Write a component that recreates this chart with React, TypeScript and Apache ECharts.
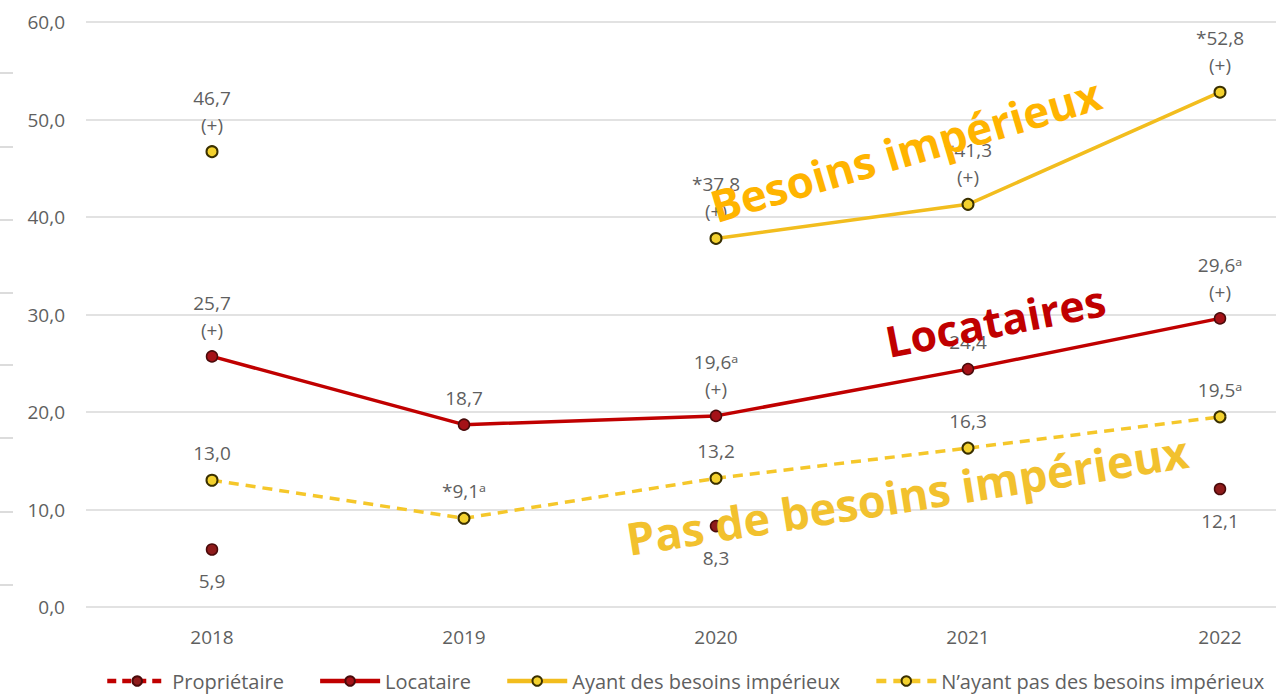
import React, { useEffect, useRef } from "react";
import * as echarts from "echarts";

const years = ["2018", "2019", "2020", "2021", "2022"];
const proprietaire = [5.9, null, 8.3, null, 12.1];
const locataire = [25.7, 18.7, 19.6, 24.4, 29.6];
const ayant = [46.7, null, 37.8, 41.3, 52.8];
const nAyant = [13.0, 9.1, 13.2, 16.3, 19.5];

const proprietaireLabels = ["5,9", "", "8,3", "", "12,1"];
const locataireLabels = ["25,7\n(+)", "18,7", "19,6ᵃ\n(+)", "24,4", "29,6ᵃ\n(+)"];
const ayantLabels = ["46,7\n(+)", "", "*37,8\n(+)", "*41,3\n(+)", "*52,8\n(+)"];
const nAyantLabels = ["13,0", "*9,1ᵃ", "13,2", "16,3", "19,5ᵃ"];

const seriesNames = [
  "Propriétaire",
  "Locataire",
  "Ayant des besoins impérieux",
  "N’ayant pas des besoins impérieux",
];

const FONT = "'Open Sans', 'Noto Sans', sans-serif";
const GREY = "#5f5f5f";

export default function App() {
  const ref = useRef<HTMLDivElement>(null);
  useEffect(() => {
    if (!ref.current) return;
    const chart = echarts.init(ref.current, null, { renderer: "svg" });
    const labelBase = {
      show: true,
      color: GREY,
      fontFamily: FONT,
      fontSize: 19,
      lineHeight: 27,
      distance: 7,
    };
    const markTicks = [73, 147, 220, 293, 365, 438, 512, 585];
    chart.setOption({
      animation: false,
      backgroundColor: "#ffffff",
      textStyle: { fontFamily: FONT },
      grid: { left: 86, right: 0, top: 22, height: 585 },
      xAxis: {
        type: "category",
        data: years,
        boundaryGap: true,
        axisLine: { show: false },
        axisTick: { show: false },
        axisLabel: { color: GREY, fontSize: 19, margin: 20, fontFamily: FONT },
      },
      yAxis: {
        type: "value",
        min: 0,
        max: 60,
        interval: 10,
        axisLine: { show: false },
        axisTick: { show: false },
        splitLine: { lineStyle: { color: "#d9d9d9", width: 1.5 } },
        axisLabel: {
          color: GREY,
          fontSize: 19,
          margin: 21,
          fontFamily: FONT,
          formatter: (v: number) => v.toFixed(1).replace(".", ","),
        },
      },
      legend: {
        bottom: 1,
        left: 100,
        itemWidth: 60,
        itemHeight: 12,
        itemGap: 34,
        lineStyle: { width: 4.5 },
        textStyle: { color: GREY, fontSize: 20, fontFamily: FONT },
        data: seriesNames,
      },
      series: [
        {
          name: seriesNames[0],
          type: "line",
          data: proprietaire,
          symbol: "circle",
          symbolSize: 11,
          itemStyle: { color: "#8e1b1b", borderColor: "#4a0a0a", borderWidth: 1.5 },
          lineStyle: { color: "#c00000", width: 3.5, type: [9, 6] },
          label: {
            ...labelBase,
            position: "bottom",
            distance: 12,
            formatter: (p: any) => proprietaireLabels[p.dataIndex],
          },
          z: 3,
        },
        {
          name: seriesNames[1],
          type: "line",
          data: locataire,
          symbol: "circle",
          symbolSize: 11,
          itemStyle: { color: "#a51218", borderColor: "#4a0a0a", borderWidth: 1.5 },
          lineStyle: { color: "#c00000", width: 3.5 },
          label: {
            ...labelBase,
            position: "top",
            formatter: (p: any) => locataireLabels[p.dataIndex],
          },
          z: 4,
        },
        {
          name: seriesNames[2],
          type: "line",
          data: ayant,
          symbol: "circle",
          symbolSize: 11,
          itemStyle: { color: "#f3d12e", borderColor: "#3a3000", borderWidth: 2 },
          lineStyle: { color: "#f2bd1e", width: 3.5 },
          label: {
            ...labelBase,
            position: "top",
            formatter: (p: any) => ayantLabels[p.dataIndex],
          },
          z: 4,
        },
        {
          name: seriesNames[3],
          type: "line",
          data: nAyant,
          symbol: "circle",
          symbolSize: 11,
          itemStyle: { color: "#f3d12e", borderColor: "#3a3000", borderWidth: 2 },
          lineStyle: { color: "#f5c72a", width: 3.5, type: [10, 7] },
          label: {
            ...labelBase,
            position: "top",
            formatter: (p: any) => nAyantLabels[p.dataIndex],
          },
          z: 4,
        },
      ],
      graphic: [
        ...markTicks.map((y) => ({
          type: "line",
          shape: { x1: 0, y1: y, x2: 13, y2: y },
          style: { stroke: "#d0d0d0", lineWidth: 1.5 },
        })),
        {
          type: "text",
          x: 718,
          y: 228,
          rotation: (16.5 * Math.PI) / 180,
          z: 100,
          style: {
            text: "Besoins impérieux",
            fill: "#ffb400",
            font: `bold 44px ${FONT}`,
            textAlign: "left",
            textVerticalAlign: "bottom",
          },
        },
        {
          type: "text",
          x: 890,
          y: 363,
          rotation: (11 * Math.PI) / 180,
          z: 100,
          style: {
            text: "Locataires",
            fill: "#c00000",
            font: `bold 43px ${FONT}`,
            textAlign: "left",
            textVerticalAlign: "bottom",
          },
        },
        {
          type: "text",
          x: 630,
          y: 561,
          rotation: (9 * Math.PI) / 180,
          z: 100,
          style: {
            text: "Pas de besoins impérieux",
            fill: "#f2c12e",
            font: `bold 45px ${FONT}`,
            textAlign: "left",
            textVerticalAlign: "bottom",
          },
        },
      ],
    });
    return () => chart.dispose();
  }, []);
  return (
    <div
      style={{
        position: "fixed",
        left: 0,
        top: 0,
        width: 1276,
        height: 697,
        overflow: "hidden",
        background: "#fff",
      }}
    >
      <div ref={ref} style={{ width: 1346, height: 697 }} />
    </div>
  );
}
